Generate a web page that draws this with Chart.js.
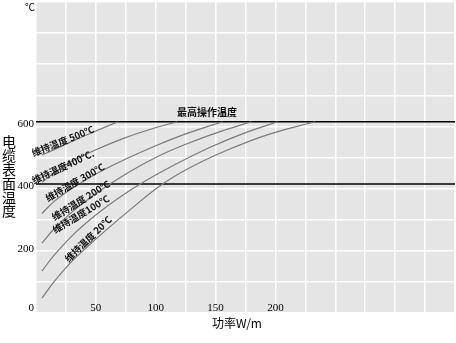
<!DOCTYPE html>
<html>
<head>
<meta charset="utf-8">
<script src="https://cdn.jsdelivr.net/npm/chart.js@4/dist/chart.umd.min.js"></script>
<style>
  html, body { margin: 0; padding: 0; background: #fff; }
  #wrap { width: 456px; height: 343px; }
</style>
</head>
<body>
<div id="wrap"><canvas id="myChart"></canvas></div>
<script>
// power W/m and surface temperature for each maintained temperature
const power20 = [5, 15, 28, 42, 58, 78, 104, 130, 160, 195, 233]
const temp20 = [48, 100, 158, 210, 265, 330, 410, 470, 524, 575, 615]
const power100 = [5, 15, 28, 42, 60, 85, 115, 145, 175, 202]
const temp100 = [135, 185, 240, 290, 345, 410, 475, 532, 580, 615]
const power200 = [5, 15, 28, 45, 70, 100, 130, 155, 180]
const temp200 = [225, 270, 318, 370, 435, 500, 550, 585, 615]
const power300 = [5, 15, 30, 50, 75, 100, 128, 156]
const temp300 = [320, 358, 400, 447, 495, 538, 580, 615]
const power400 = [5, 15, 30, 50, 72, 95, 118]
const temp400 = [420, 450, 488, 525, 560, 590, 615]
const power500 = [5, 18, 32, 50, 68.5]
const temp500 = [508, 530, 555, 585, 615]

const limitLines = [615, 415]
const xTickLabels = [50, 100, 150, 200]
const yTickLabels = [0, 200, 400, 600]

const curveLabels = ['维持温度 20℃', '维持温度100℃', '维持温度 200℃', '维持温度 300℃', '维持温度400℃.', '维持温度 500℃']
const labelPower = [43.5, 37.5, 37.5, 32.5, 22.5, 22.5]
const labelTemp = [238, 318, 362, 420, 470, 553]
const labelAngle = [-44, -31, -32, -30, -25, -22]

const toPoints = (xs, ys) => xs.map((x, i) => ({ x: x, y: ys[i] }))

const curves = [
  [power20, temp20], [power100, temp100], [power200, temp200],
  [power300, temp300], [power400, temp400], [power500, temp500]
]

const datasets = curves.map((c, i) => ({
  label: curveLabels[i],
  data: toPoints(c[0], c[1]),
  showLine: true,
  borderColor: '#7a7a7a',
  borderWidth: 1.2,
  pointRadius: 0,
  tension: 0.4
}))

limitLines.forEach(v => {
  datasets.push({
    label: 'limit',
    data: [{ x: 0, y: v }, { x: 350, y: v }],
    showLine: true,
    borderColor: '#000',
    borderWidth: 1.6,
    pointRadius: 0
  })
})

const decor = {
  id: 'decor',
  beforeDraw(chart) {
    const { ctx, chartArea: a } = chart
    ctx.save()
    ctx.fillStyle = '#e5e5e5'
    ctx.fillRect(a.left, a.top, a.right - a.left, a.bottom - a.top)
    ctx.restore()
  },
  afterDraw(chart) {
    const { ctx, chartArea: a } = chart
    const xs = chart.scales.x, ys = chart.scales.y
    ctx.save()
    ctx.fillStyle = '#000'
    ctx.font = '11px "Liberation Serif"'
    ctx.textBaseline = 'middle'
    // y tick labels
    ctx.textAlign = 'right'
    yTickLabels.forEach(v => ctx.fillText(String(v), a.left - 2, Math.min(ys.getPixelForValue(v) - 2, a.bottom - 5)))
    // x tick labels sit inside the plot
    ctx.textAlign = 'center'
    xTickLabels.forEach(v => ctx.fillText(String(v), xs.getPixelForValue(v), a.bottom - 5))

    // curve labels
    ctx.fillStyle = '#111'
    ctx.font = 'bold 9.5px "Noto Sans CJK SC"'
    curveLabels.forEach((t, i) => {
      ctx.save()
      ctx.translate(xs.getPixelForValue(labelPower[i]), ys.getPixelForValue(labelTemp[i]))
      ctx.rotate(labelAngle[i] * Math.PI / 180)
      ctx.fillText(t, 0, 0)
      ctx.restore()
    })
    ctx.font = 'bold 10px "Noto Sans CJK SC"'
    ctx.fillText('最高操作温度', xs.getPixelForValue(142.8), ys.getPixelForValue(646))

    // unit and titles
    ctx.fillStyle = '#000'
    ctx.font = '10px "Noto Sans CJK SC"'
    ctx.fillText('℃', 30, 7)
    ctx.font = '14px "Noto Sans CJK SC"'
    const yTitle = '电缆表面温度'
    for (let i = 0; i < yTitle.length; i++) {
      ctx.fillText(yTitle[i], 9, 142 + i * 13.8)
    }
    ctx.font = '12px "Noto Sans CJK SC"'
    ctx.fillText('功率W/m', 237, 323)
    ctx.restore()
  }
}

new Chart(document.getElementById('myChart'), {
  type: 'scatter',
  data: { datasets: datasets },
  options: {
    responsive: true,
    maintainAspectRatio: false,
    animation: false,
    layout: { padding: { top: 2, right: 1 } },
    plugins: { legend: { display: false }, tooltip: { enabled: false } },
    scales: {
      x: {
        min: 0, max: 350,
        border: { display: false },
        grid: { color: '#ffffff', lineWidth: 1.5, drawTicks: false },
        ticks: { stepSize: 25, display: false },
        afterFit(s) { s.height = 30 }
      },
      y: {
        min: 0, max: 1000,
        border: { display: false },
        grid: { color: '#ffffff', lineWidth: 1.5, drawTicks: false },
        ticks: { stepSize: 100, display: false },
        afterFit(s) { s.width = 36 }
      }
    }
  },
  plugins: [decor]
})
</script>
</body>
</html>
